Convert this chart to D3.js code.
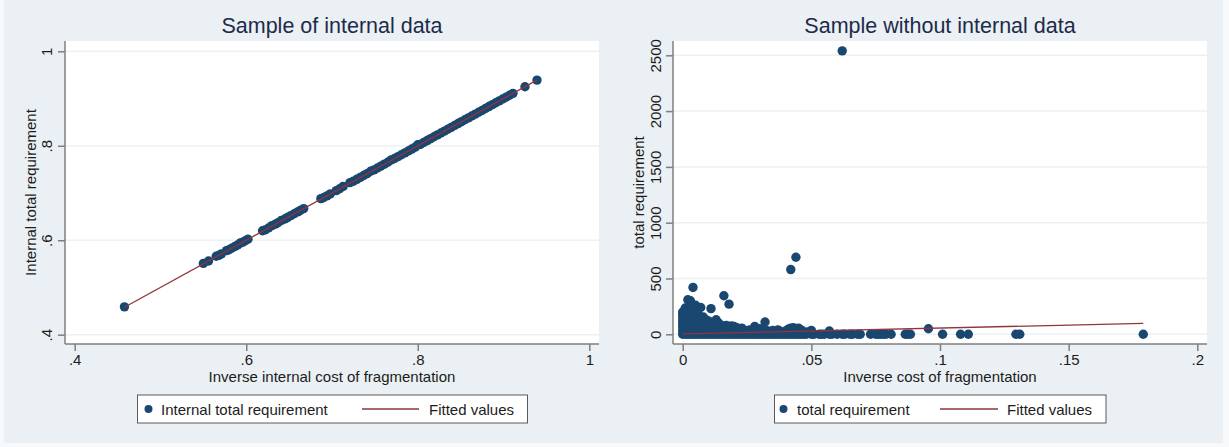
<!DOCTYPE html>
<html>
<head>
<meta charset="utf-8">
<script src="https://cdn.jsdelivr.net/npm/d3@7"></script>
<style>
  html, body { margin: 0; padding: 0; background: #f7f9fa; }
  svg { display: block; }
  text { font-family: "Liberation Sans", Arial, Helvetica, sans-serif; }
</style>
</head>
<body>
<svg id="chart" width="1229" height="447"></svg>
<script>
// ---------- data ----------
const leftTitle = "Sample of internal data";
const rightTitle = "Sample without internal data";
const leftXTitle = "Inverse internal cost of fragmentation";
const leftYTitle = "Internal total requirement";
const rightXTitle = "Inverse cost of fragmentation";
const rightYTitle = "total requirement";
const leftLegend = ["Internal total requirement", "Fitted values"];
const rightLegend = ["total requirement", "Fitted values"];

const leftXTicks = [0.4, 0.6, 0.8, 1];
const leftXTickLabels = [".4", ".6", ".8", "1"];
const leftYTicks = [0.4, 0.6, 0.8, 1];
const leftYTickLabels = [".4", ".6", ".8", "1"];
const rightXTicks = [0, 0.05, 0.1, 0.15, 0.2];
const rightXTickLabels = ["0", ".05", ".1", ".15", ".2"];
const rightYTicks = [0, 500, 1000, 1500, 2000, 2500];
const rightYTickLabels = ["0", "500", "1000", "1500", "2000", "2500"];

// left panel: internal sample
const leftX = [0.458, 0.550, 0.556, 0.565, 0.568, 0.571, 0.577, 0.580, 0.583,
  0.587, 0.590, 0.593, 0.596, 0.599, 0.602,
  0.619, 0.622, 0.626, 0.630, 0.634, 0.637, 0.641, 0.645, 0.648, 0.652, 0.656, 0.660, 0.663, 0.667,
  0.687, 0.690, 0.694, 0.698, 0.705, 0.709, 0.713,
  0.721, 0.725, 0.729, 0.733, 0.737, 0.741, 0.745, 0.749, 0.753, 0.757, 0.761, 0.765, 0.769, 0.773,
  0.777, 0.781, 0.785, 0.789, 0.793, 0.797, 0.800, 0.803, 0.807, 0.811, 0.815, 0.819, 0.823, 0.827,
  0.831, 0.835, 0.839, 0.843, 0.847, 0.851, 0.855, 0.859, 0.863, 0.867, 0.871, 0.875, 0.879, 0.883,
  0.887, 0.891, 0.895, 0.899, 0.903, 0.907, 0.911, 0.925, 0.939];
const leftY = [0.459, 0.551, 0.556, 0.566, 0.568, 0.571, 0.578, 0.580, 0.583,
  0.587, 0.590, 0.594, 0.596, 0.599, 0.602,
  0.620, 0.622, 0.626, 0.631, 0.634, 0.637, 0.642, 0.645, 0.648, 0.652, 0.656, 0.660, 0.663, 0.667,
  0.688, 0.690, 0.694, 0.698, 0.705, 0.709, 0.714,
  0.722, 0.725, 0.729, 0.733, 0.737, 0.741, 0.746, 0.749, 0.753, 0.757, 0.761, 0.765, 0.770, 0.773,
  0.777, 0.781, 0.785, 0.789, 0.793, 0.797, 0.802, 0.803, 0.807, 0.811, 0.815, 0.819, 0.823, 0.827,
  0.831, 0.835, 0.839, 0.843, 0.847, 0.851, 0.855, 0.859, 0.863, 0.867, 0.871, 0.875, 0.879, 0.883,
  0.887, 0.891, 0.895, 0.899, 0.903, 0.907, 0.911, 0.925, 0.939];
const leftFitX = [0.458, 0.939];
const leftFitY = [0.458, 0.939];

// right panel: columns of [x, list of y values]
const rightColumns = [
  [0.000, [0, 30, 60, 90, 120, 150, 180, 200]],
  [0.001, [0, 35, 70, 105, 140, 175, 210, 235]],
  [0.002, [0, 40, 80, 120, 160, 200, 240, 310]],
  [0.003, [0, 35, 70, 105, 140, 175, 210, 250, 300]],
  [0.004, [0, 40, 80, 120, 160, 200, 230, 420]],
  [0.005, [0, 35, 70, 105, 140, 175, 210, 260]],
  [0.006, [0, 30, 60, 90, 120, 150, 180]],
  [0.007, [0, 35, 70, 105, 140, 240]],
  [0.008, [0, 30, 60, 90, 120, 155]],
  [0.009, [0, 35, 70, 105, 130]],
  [0.010, [0, 30, 60, 95, 120]],
  [0.011, [0, 35, 70, 100, 230]],
  [0.012, [0, 30, 60, 90]],
  [0.013, [0, 35, 70, 130]],
  [0.014, [0, 30, 60, 100]],
  [0.015, [0, 40, 80]],
  [0.016, [0, 30, 70, 345]],
  [0.017, [0, 40, 80]],
  [0.018, [0, 30, 60, 270]],
  [0.019, [0, 40, 75]],
  [0.020, [0, 35, 70]],
  [0.021, [0, 30, 60]],
  [0.022, [0, 40]],
  [0.023, [0, 30, 55]],
  [0.024, [0, 35]],
  [0.025, [0, 25]],
  [0.026, [0, 40]],
  [0.027, [0, 30]],
  [0.028, [0, 45, 70]],
  [0.029, [0, 30]],
  [0.030, [0, 50]],
  [0.031, [0, 25]],
  [0.032, [0, 40, 110]],
  [0.033, [0, 30]],
  [0.034, [0, 20]],
  [0.035, [0, 35]],
  [0.036, [0, 20]],
  [0.037, [0, 40]],
  [0.038, [0, 25]],
  [0.039, [0, 15]],
  [0.040, [0, 30]],
  [0.041, [0, 45]],
  [0.042, [0, 55, 580]],
  [0.043, [0, 60]],
  [0.044, [0, 35, 690]],
  [0.045, [0, 55]],
  [0.046, [0, 40]],
  [0.047, [0]],
  [0.048, [0, 20]],
  [0.050, [0, 35]],
  [0.051, [0]],
  [0.053, [0]],
  [0.054, [0]],
  [0.055, [0]],
  [0.057, [0, 30]],
  [0.058, [0]],
  [0.060, [0]],
  [0.062, [0, 2540]],
  [0.063, [0]],
  [0.065, [0]],
  [0.066, [0]],
  [0.068, [0]],
  [0.069, [0]],
  [0.073, [0]],
  [0.075, [0]],
  [0.076, [0]],
  [0.077, [0]],
  [0.078, [0]],
  [0.079, [0]],
  [0.081, [0]],
  [0.0865, [0]],
  [0.0875, [0]],
  [0.0885, [0]],
  [0.0955, [50]],
  [0.101, [0]],
  [0.108, [0]],
  [0.111, [0]],
  [0.1295, [0]],
  [0.131, [0]],
  [0.179, [0]]
];
const rightFitX = [0, 0.179];
const rightFitY = [3, 98];

// ---------- style ----------
const markerColor = "#1a476f";
const fitColor = "#90353b";
const gridColor = "#eaf2f3";
const axisColor = "#7f7f7f";
const textColor = "#1c1c1c";
const titleColor = "#1e2b4a";
const fs = 15;

const svg = d3.select("#chart");
svg.append("rect").attr("x", 4).attr("y", 0).attr("width", 1219).attr("height", 443).attr("fill", "#eaf0f3");

function panel(cfg) {
  const g = svg.append("g");
  const x = d3.scaleLinear().domain(cfg.xDomain).range(cfg.xRange);
  const y = d3.scaleLinear().domain(cfg.yDomain).range(cfg.yRange);
  const p = cfg.plot;
  g.append("rect").attr("x", p.x0).attr("y", p.y0).attr("width", p.x1 - p.x0).attr("height", p.y1 - p.y0).attr("fill", "#ffffff");

  // grid
  g.selectAll(".grid").data(cfg.yTicks).enter().append("line")
    .attr("x1", p.x0).attr("x2", p.x1)
    .attr("y1", d => y(d)).attr("y2", d => y(d))
    .attr("stroke", gridColor).attr("stroke-width", 1.5);

  // axes
  const yAxis = d3.axisLeft(y).tickValues(cfg.yTicks).tickSize(7).tickPadding(4)
    .tickFormat((d, i) => cfg.yTickLabels[i]);
  const ya = g.append("g").attr("transform", `translate(${p.x0},0)`).call(yAxis);
  ya.select(".domain").attr("d", `M0,${p.y0}V${p.y1}`).attr("stroke", axisColor).attr("stroke-width", 1.5);
  ya.selectAll(".tick line").attr("stroke", axisColor).attr("stroke-width", 1.5);
  ya.selectAll(".tick text")
    .attr("x", null).attr("dy", null)
    .attr("transform", d => `translate(${cfg.yLabelX - p.x0},0) rotate(-90)`)
    .attr("text-anchor", "middle").attr("y", 0)
    .attr("font-size", fs).attr("fill", textColor)
    .style("font-family", '"Liberation Sans", Arial, sans-serif');

  const xAxis = d3.axisBottom(x).tickValues(cfg.xTicks).tickSize(7).tickPadding(4)
    .tickFormat((d, i) => cfg.xTickLabels[i]);
  const xa = g.append("g").attr("transform", `translate(0,${p.y1})`).call(xAxis);
  xa.select(".domain").attr("d", `M${p.x0},0H${p.x1}`).attr("stroke", axisColor).attr("stroke-width", 1.5);
  xa.selectAll(".tick line").attr("stroke", axisColor).attr("stroke-width", 1.5);
  xa.selectAll(".tick text").attr("dy", null).attr("y", 21)
    .attr("font-size", fs).attr("fill", textColor)
    .style("font-family", '"Liberation Sans", Arial, sans-serif');

  // points
  g.selectAll(".pt").data(cfg.points).enter().append("circle")
    .attr("cx", d => x(d[0])).attr("cy", d => y(d[1])).attr("r", 4.7)
    .attr("fill", markerColor);

  // fit line
  const fit = cfg.fitX.map((v, i) => [v, cfg.fitY[i]]);
  g.append("path").datum(fit)
    .attr("d", d3.line().x(d => x(d[0])).y(d => y(d[1])))
    .attr("stroke", fitColor).attr("stroke-width", 1.3).attr("fill", "none");

  // titles
  const cx = (p.x0 + p.x1) / 2;
  g.append("text").attr("x", cx).attr("y", 33).attr("text-anchor", "middle")
    .attr("font-size", 21.5).attr("fill", titleColor).text(cfg.title);
  g.append("text").attr("x", cx).attr("y", 382).attr("text-anchor", "middle")
    .attr("font-size", fs).attr("fill", textColor).text(cfg.xTitle);
  g.append("text").attr("transform", `translate(${cfg.yTitleX},${(p.y0 + p.y1) / 2}) rotate(-90)`)
    .attr("text-anchor", "middle").attr("font-size", fs).attr("fill", textColor).text(cfg.yTitle);

  // legend
  const L = cfg.legend;
  g.append("rect").attr("x", L.x0).attr("y", 395).attr("width", L.x1 - L.x0).attr("height", 28)
    .attr("fill", "#ffffff").attr("stroke", "#5a5a5a").attr("stroke-width", 1);
  g.append("circle").attr("cx", L.marker).attr("cy", 409).attr("r", 4).attr("fill", markerColor);
  g.append("text").attr("x", L.text1).attr("y", 414.5).attr("font-size", fs).attr("fill", textColor).text(cfg.legendLabels[0]);
  g.append("line").attr("x1", L.line0).attr("x2", L.line1).attr("y1", 409).attr("y2", 409)
    .attr("stroke", fitColor).attr("stroke-width", 1.3);
  g.append("text").attr("x", L.text2).attr("y", 414.5).attr("font-size", fs).attr("fill", textColor).text(cfg.legendLabels[1]);
}

const leftPoints = leftX.map((v, i) => [v, leftY[i]]);
const rightPoints = [];
rightColumns.forEach(c => c[1].forEach(v => rightPoints.push([c[0], v])));

panel({
  xDomain: [0.4, 1], xRange: [74.7, 589.3],
  yDomain: [0.4, 1], yRange: [334.7, 51.3],
  plot: { x0: 65, x1: 599, y0: 41, y1: 344 },
  xTicks: leftXTicks, xTickLabels: leftXTickLabels,
  yTicks: leftYTicks, yTickLabels: leftYTickLabels,
  yLabelX: 52, yTitleX: 36,
  points: leftPoints, fitX: leftFitX, fitY: leftFitY,
  title: leftTitle, xTitle: leftXTitle, yTitle: leftYTitle,
  legendLabels: leftLegend,
  legend: { x0: 137.5, x1: 527.5, marker: 148.5, text1: 161, line0: 362, line1: 419, text2: 429 }
});

panel({
  xDomain: [0, 0.2], xRange: [682.7, 1197.3],
  yDomain: [0, 2500], yRange: [334.3, 55.3],
  plot: { x0: 673, x1: 1207, y0: 41, y1: 344 },
  xTicks: rightXTicks, xTickLabels: rightXTickLabels,
  yTicks: rightYTicks, yTickLabels: rightYTickLabels,
  yLabelX: 661, yTitleX: 644,
  points: rightPoints, fitX: rightFitX, fitY: rightFitY,
  title: rightTitle, xTitle: rightXTitle, yTitle: rightYTitle,
  legendLabels: rightLegend,
  legend: { x0: 774.5, x1: 1106, marker: 783.5, text1: 797, line0: 940, line1: 998, text2: 1007 }
});
</script>
</body>
</html>
